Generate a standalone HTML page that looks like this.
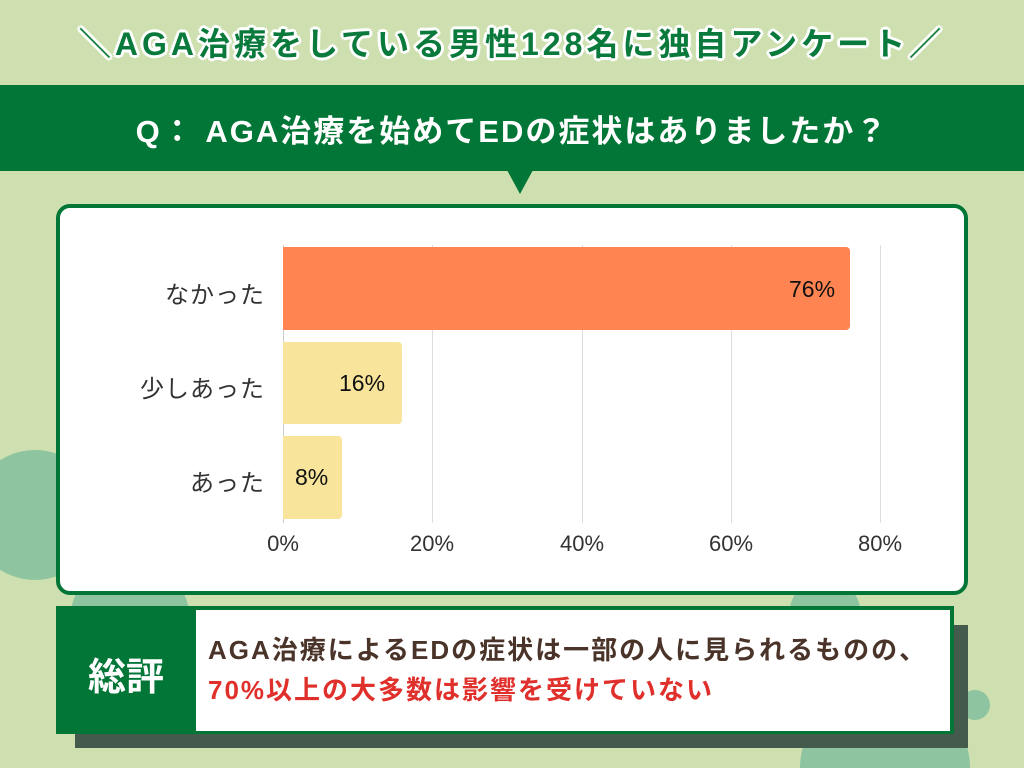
<!DOCTYPE html>
<html style="width:1024px;height:768px;overflow:hidden"><head><meta charset="utf-8"><style>
*{margin:0;padding:0;box-sizing:border-box}
body{width:1024px;height:768px;background:#cfe0b0;position:relative;overflow:hidden;font-family:"Liberation Sans","Noto Sans CJK JP",sans-serif}
.abs{position:absolute}
.t1{left:0;width:1024px;top:19px;text-align:center;font-size:32px;letter-spacing:4px;font-weight:bold;color:#0a7a3c;white-space:nowrap;text-shadow:2px 2px 0 #fff,-2px -2px 0 #fff,2px -2px 0 #fff,-2px 2px 0 #fff,0 3px 0 #fff,3px 0 0 #fff,0 -3px 0 #fff,-3px 0 0 #fff}
.lbl{right:759px;font-size:24px;letter-spacing:1px;color:#333;text-align:right}
.tick{font-size:22px;color:#333;width:90px;text-align:center;top:531px}
.grid{top:245px;height:278px;width:1px;background:#ddd}
.val{font-size:23px;color:#111}
</style></head><body>
<div class="abs" style="left:-30px;top:450px;width:130px;height:130px;border-radius:50%;background:#8fc4a0"></div>
<div class="abs" style="left:70px;top:560px;width:120px;height:120px;border-radius:50%;background:#8fc4a0"></div>
<div class="abs" style="left:790px;top:580px;width:70px;height:60px;border-radius:50%;background:#8fc4a0"></div>
<div class="abs" style="left:960px;top:690px;width:30px;height:30px;border-radius:50%;background:#8fc4a0"></div>
<div class="abs" style="left:800px;top:690px;width:170px;height:78px;border-radius:85px 85px 0 0;background:#8fc4a0"></div>
<div class="abs t1">＼AGA治療をしている男性128名に独自アンケート／</div>
<div class="abs" style="left:0;top:85px;width:1024px;height:86px;background:#027636"></div>
<div class="abs" style="left:0;top:106px;width:1024px;text-align:center;color:#fff;font-size:31px;letter-spacing:2px;font-weight:bold;white-space:nowrap">Q：&nbsp;AGA治療を始めてEDの症状はありましたか？</div>
<div class="abs" style="left:507px;top:170px;border-left:13px solid transparent;border-right:13px solid transparent;border-top:24px solid #027636"></div>
<div class="abs" style="left:56px;top:204px;width:912px;height:391px;background:#fff;border:4px solid #027636;border-radius:14px"></div>
<div class="abs grid" style="left:283px;background:#ccc"></div>
<div class="abs grid" style="left:432px"></div>
<div class="abs grid" style="left:582px"></div>
<div class="abs grid" style="left:731px"></div>
<div class="abs grid" style="left:880px"></div>
<div class="abs" style="left:283px;top:247px;width:567px;height:83px;background:#ff8451;border-radius:0 4px 4px 0"></div>
<div class="abs" style="left:283px;top:342px;width:119px;height:82px;background:#f8e59b;border-radius:0 4px 4px 0"></div>
<div class="abs" style="left:283px;top:436px;width:59px;height:83px;background:#f8e59b;border-radius:0 4px 4px 0"></div>
<div class="abs val" style="left:789px;top:276px">76%</div>
<div class="abs val" style="left:339px;top:370px">16%</div>
<div class="abs val" style="left:295px;top:464px">8%</div>
<div class="abs lbl" style="top:275px">なかった</div>
<div class="abs lbl" style="top:369px">少しあった</div>
<div class="abs lbl" style="top:463px">あった</div>
<div class="abs tick" style="left:238px">0%</div>
<div class="abs tick" style="left:387px">20%</div>
<div class="abs tick" style="left:537px">40%</div>
<div class="abs tick" style="left:686px">60%</div>
<div class="abs tick" style="left:835px">80%</div>
<div class="abs" style="left:75px;top:625px;width:893px;height:123px;background:#435a4c"></div>
<div class="abs" style="left:56px;top:606px;width:898px;height:128px;background:#027636"></div>
<div class="abs" style="left:196px;top:610px;width:754px;height:121px;background:#fff"></div>
<div class="abs" style="left:56px;top:646px;width:140px;text-align:center;color:#fff;font-size:38px;font-weight:bold">総評</div>
<div class="abs" style="left:208px;top:630px;font-size:26px;letter-spacing:2px;font-weight:bold;color:#4a3328;line-height:40px;white-space:nowrap">AGA治療によるEDの症状は一部の人に見られるものの、<br><span style="color:#e0302c">70%以上の大多数は影響を受けていない</span></div>
</body></html>
